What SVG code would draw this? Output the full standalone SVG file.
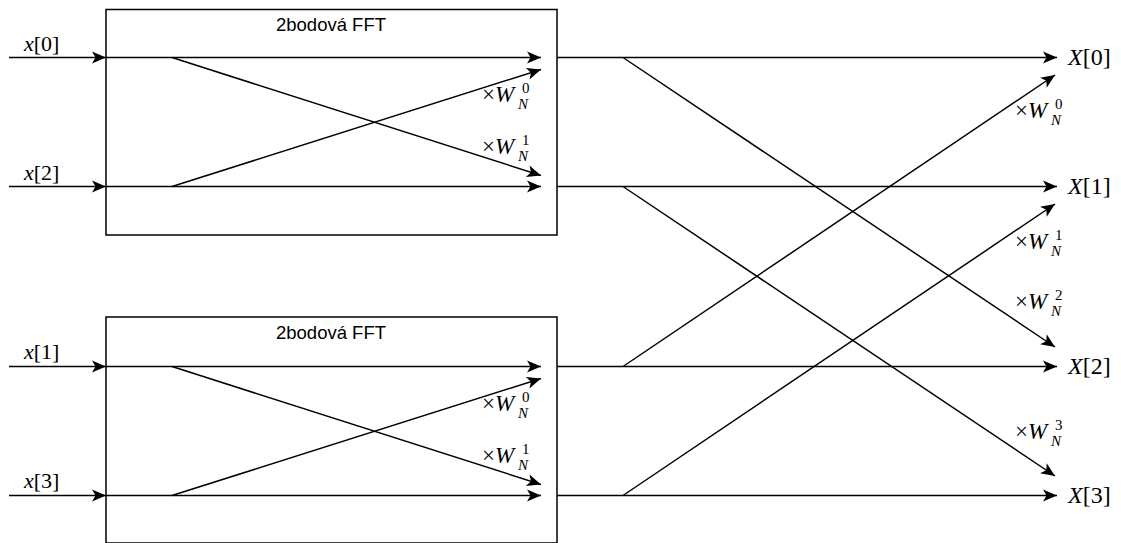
<svg xmlns="http://www.w3.org/2000/svg" width="1121" height="543" viewBox="0 0 1121 543">
  <style>
    .box { fill: #ffffff; stroke: #000000; stroke-width: 1.5; }
    .wire { fill: none; stroke: #000000; stroke-width: 1.5; marker-end: url(#arrow); }
    .title { font-family: "Liberation Sans", Arial, sans-serif; font-size: 18.5px; fill: #000; text-anchor: middle; }
    .math { font-family: "Liberation Serif", "Times New Roman", serif; fill: #000; }
    .it { font-style: italic; }
    .in { font-size: 22px; }
    .out { font-size: 24px; }
    .w { font-size: 23px; }
    .s { font-size: 15px; }
  </style>
  <defs>
    <marker id="arrow" viewBox="-15 -7 16 14" refX="0" refY="0" markerWidth="16" markerHeight="14" markerUnits="userSpaceOnUse" orient="auto">
      <path d="M0,0 L-14,-6 L-10.5,0 L-14,6 Z" fill="#000"/>
    </marker>
  </defs>

  <!-- first 2-point butterfly block -->
  <g id="fft-top">
    <rect class="box" x="106" y="9.5" width="451" height="225.5"/>
    <text class="title" x="331" y="31">2bodová FFT</text>
  </g>

  <!-- second 2-point butterfly block -->
  <g id="fft-bottom">
    <rect class="box" x="106" y="317" width="451" height="226"/>
    <text class="title" x="331" y="339">2bodová FFT</text>
  </g>

  <!-- input labels -->
  <g id="inputs" class="math in">
    <text x="24" y="51"><tspan class="it">x</tspan>[0]</text>
    <text x="24" y="180"><tspan class="it">x</tspan>[2]</text>
    <text x="24" y="359"><tspan class="it">x</tspan>[1]</text>
    <text x="24" y="488"><tspan class="it">x</tspan>[3]</text>
  </g>

  <!-- output labels -->
  <g id="outputs" class="math out">
    <text x="1068" y="65"><tspan class="it">X</tspan>[0]</text>
    <text x="1068" y="194"><tspan class="it">X</tspan>[1]</text>
    <text x="1068" y="374"><tspan class="it">X</tspan>[2]</text>
    <text x="1068" y="503"><tspan class="it">X</tspan>[3]</text>
  </g>

  <!-- twiddle factor labels -->
  <g id="twiddles" class="math">
    <g id="tw-a0"><text class="w" x="482" y="102">×<tspan class="it">W</tspan></text><text class="s" x="522" y="93">0</text><text class="s it" x="518" y="109">N</text></g>
    <g id="tw-a1"><text class="w" x="482" y="154">×<tspan class="it">W</tspan></text><text class="s" x="522" y="145">1</text><text class="s it" x="518" y="161">N</text></g>
    <g id="tw-b0"><text class="w" x="482" y="411">×<tspan class="it">W</tspan></text><text class="s" x="522" y="402">0</text><text class="s it" x="518" y="418">N</text></g>
    <g id="tw-b1"><text class="w" x="482" y="463">×<tspan class="it">W</tspan></text><text class="s" x="522" y="454">1</text><text class="s it" x="518" y="470">N</text></g>
    <g id="tw-c0"><text class="w" x="1015" y="118">×<tspan class="it">W</tspan></text><text class="s" x="1055" y="109">0</text><text class="s it" x="1051" y="125">N</text></g>
    <g id="tw-c1"><text class="w" x="1015" y="249">×<tspan class="it">W</tspan></text><text class="s" x="1055" y="240">1</text><text class="s it" x="1051" y="256">N</text></g>
    <g id="tw-c2"><text class="w" x="1015" y="309">×<tspan class="it">W</tspan></text><text class="s" x="1055" y="300">2</text><text class="s it" x="1051" y="316">N</text></g>
    <g id="tw-c3"><text class="w" x="1015" y="439">×<tspan class="it">W</tspan></text><text class="s" x="1055" y="430">3</text><text class="s it" x="1051" y="446">N</text></g>
  </g>

  <!-- signal flow connectors -->
  <g id="connectors">
    <!-- inputs into the blocks -->
    <line class="wire" x1="9" y1="57.5" x2="106" y2="57.5"/>
    <line class="wire" x1="9" y1="186.5" x2="106" y2="186.5"/>
    <line class="wire" x1="9" y1="366.5" x2="106" y2="366.5"/>
    <line class="wire" x1="9" y1="495.5" x2="106" y2="495.5"/>

    <!-- top block butterfly -->
    <line class="wire" x1="106" y1="57.5" x2="541" y2="57.5"/>
    <line class="wire" x1="106" y1="186.5" x2="541" y2="186.5"/>
    <line class="wire" x1="172" y1="57.5" x2="541" y2="175.5"/>
    <line class="wire" x1="172" y1="186.5" x2="541" y2="69.5"/>

    <!-- bottom block butterfly -->
    <line class="wire" x1="106" y1="366.5" x2="541" y2="366.5"/>
    <line class="wire" x1="106" y1="495.5" x2="541" y2="495.5"/>
    <line class="wire" x1="172" y1="366.5" x2="541" y2="484.5"/>
    <line class="wire" x1="172" y1="495.5" x2="541" y2="378.5"/>

    <!-- final stage -->
    <line class="wire" x1="557" y1="57.5" x2="1057" y2="57.5"/>
    <line class="wire" x1="557" y1="186.5" x2="1057" y2="186.5"/>
    <line class="wire" x1="557" y1="366.5" x2="1057" y2="366.5"/>
    <line class="wire" x1="557" y1="495.5" x2="1057" y2="495.5"/>
    <line class="wire" x1="623" y1="57.5" x2="1055" y2="347"/>
    <line class="wire" x1="623" y1="186.5" x2="1055" y2="476"/>
    <line class="wire" x1="623" y1="366.5" x2="1055" y2="75"/>
    <line class="wire" x1="623" y1="495.5" x2="1055" y2="204"/>
  </g>
</svg>
